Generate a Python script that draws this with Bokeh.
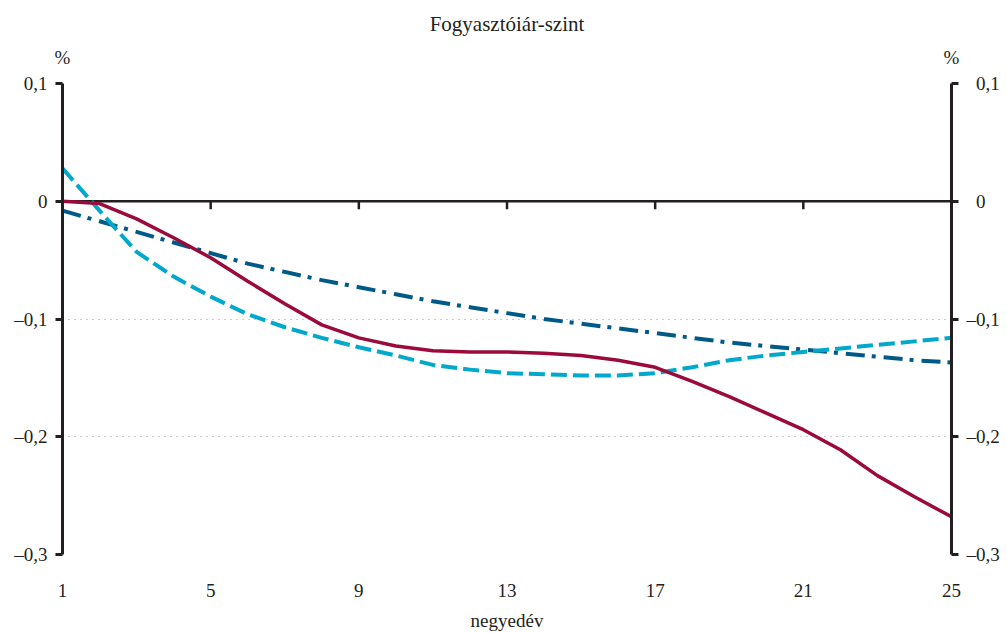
from bokeh.plotting import figure
from bokeh.models import (FixedTicker, LinearAxis, Range1d, Title, Grid)
from bokeh.embed import file_html
from bokeh.resources import INLINE

# ---------------- data ----------------
quarters = list(range(1, 26))
red_solid = [0.000, -0.002, -0.015, -0.031, -0.048, -0.068, -0.087, -0.105, -0.116,
             -0.123, -0.127, -0.128, -0.128, -0.129, -0.131, -0.135, -0.141, -0.153,
             -0.166, -0.180, -0.194, -0.211, -0.233, -0.251, -0.268]
cyan_dashed = [0.028, -0.008, -0.043, -0.064, -0.081, -0.096, -0.107, -0.116, -0.124,
               -0.131, -0.139, -0.143, -0.146, -0.147, -0.148, -0.148, -0.146, -0.141,
               -0.135, -0.131, -0.128, -0.125, -0.122, -0.119, -0.116]
blue_dashdot = [-0.008, -0.017, -0.026, -0.035, -0.044, -0.053, -0.060, -0.067, -0.073,
                -0.079, -0.085, -0.090, -0.095, -0.100, -0.104, -0.108, -0.112, -0.116,
                -0.120, -0.123, -0.126, -0.129, -0.132, -0.135, -0.137]

x_ticks = [1, 5, 9, 13, 17, 21, 25]
y_ticks = [0.1, 0, -0.1, -0.2, -0.3]
y_tick_labels = ["0,1", "0", "–0,1", "–0,2", "–0,3"]
title_text = "Fogyasztóiár-szint"
x_label = "negyedév"
unit_label = "%"

# ---------------- style ----------------
FONT = "'Liberation Serif', 'Times New Roman', serif"
FS = "19px"
AXC = "#231f20"
TXT = "#231f20"
RED = "#9b0a3a"
CYAN = "#00a8cc"
BLUE = "#005a87"
PX_PER_Y = 1180.0     # pixels per 1 unit of y

x_lo, x_hi = min(x_ticks), max(x_ticks)
y_lo, y_hi = min(y_ticks), max(y_ticks)
p = figure(width=1007, height=633, output_backend="svg", toolbar_location=None,
           x_range=Range1d(x_lo, x_hi), y_range=Range1d(y_lo, y_hi),
           x_axis_location=None, y_axis_location=None,
           min_border_left=62, min_border_right=56,
           min_border_top=83, min_border_bottom=78)
p.outline_line_color = None
p.background_fill_color = "white"
p.border_fill_color = "white"

# title
p.title = Title(text=title_text, align="center", text_font=FONT, text_font_size="21px",
                text_font_style="normal", text_color=TXT, standoff=16)

# bottom x axis (labels only)
xa = LinearAxis(ticker=FixedTicker(ticks=x_ticks),
                axis_line_color=None, major_tick_line_color=None,
                minor_tick_line_color=None, major_label_standoff=23,
                major_label_text_font=FONT, major_label_text_font_size=FS,
                major_label_text_color=TXT,
                axis_label=x_label, axis_label_text_font=FONT,
                axis_label_text_font_size=FS, axis_label_text_font_style="normal",
                axis_label_text_color=TXT, axis_label_standoff=10)
p.add_layout(xa, "below")

# "%" unit labels above both value axes (an axis above with only two labels)
unit_axis = LinearAxis(ticker=FixedTicker(ticks=[x_lo, x_hi]),
                       major_label_overrides={x_lo: unit_label, x_hi: unit_label},
                       axis_line_color=None, major_tick_line_color=None,
                       minor_tick_line_color=None, major_label_standoff=10,
                       major_label_text_font=FONT, major_label_text_font_size=FS,
                       major_label_text_color=TXT)
p.add_layout(unit_axis, "above")

left_over = {t: l for t, l in zip(y_ticks, y_tick_labels)}
# right side: digits aligned, the minus sign hangs to the left (en space = en dash width)
right_over = {t: (l if l.startswith("–") else "\u2002" + l) for t, l in zip(y_ticks, y_tick_labels)}

common = dict(ticker=FixedTicker(ticks=y_ticks),
              axis_line_color=AXC, axis_line_width=3,
              major_tick_line_color=AXC, major_tick_line_width=3,
              major_tick_in=0, major_tick_out=7, minor_tick_line_color=None,
              major_label_text_font=FONT, major_label_text_font_size=FS,
              major_label_text_color=TXT, major_label_standoff=8)
p.add_layout(LinearAxis(major_label_overrides=left_over, **common), "left")
p.add_layout(LinearAxis(major_label_overrides=right_over, **common), "right")

# grid (horizontal only, dotted)
p.xgrid.visible = False
p.ygrid.visible = False
p.add_layout(Grid(dimension=1, ticker=FixedTicker(ticks=[t for t in y_ticks if t != 0]),
                  grid_line_color="#9a9a9a", grid_line_dash="1 5", grid_line_width=1.2))

# zero line and its ticks
p.segment(x0=[x_lo], x1=[x_hi], y0=[0], y1=[0], line_color=AXC, line_width=2.5)
inner = [t for t in x_ticks if t not in (x_lo, x_hi)]
p.segment(x0=inner, x1=inner, y0=[0] * len(inner), y1=[-8 / PX_PER_Y] * len(inner),
          line_color=AXC, line_width=2.5)

# series
p.line(quarters, blue_dashdot, line_color=BLUE, line_width=4, line_dash="19 7 4 8")
p.line(quarters, cyan_dashed, line_color=CYAN, line_width=4, line_dash="16 6")
p.line(quarters, red_solid, line_color=RED, line_width=3.5)

open("out.html", "w").write(file_html(p, INLINE))
